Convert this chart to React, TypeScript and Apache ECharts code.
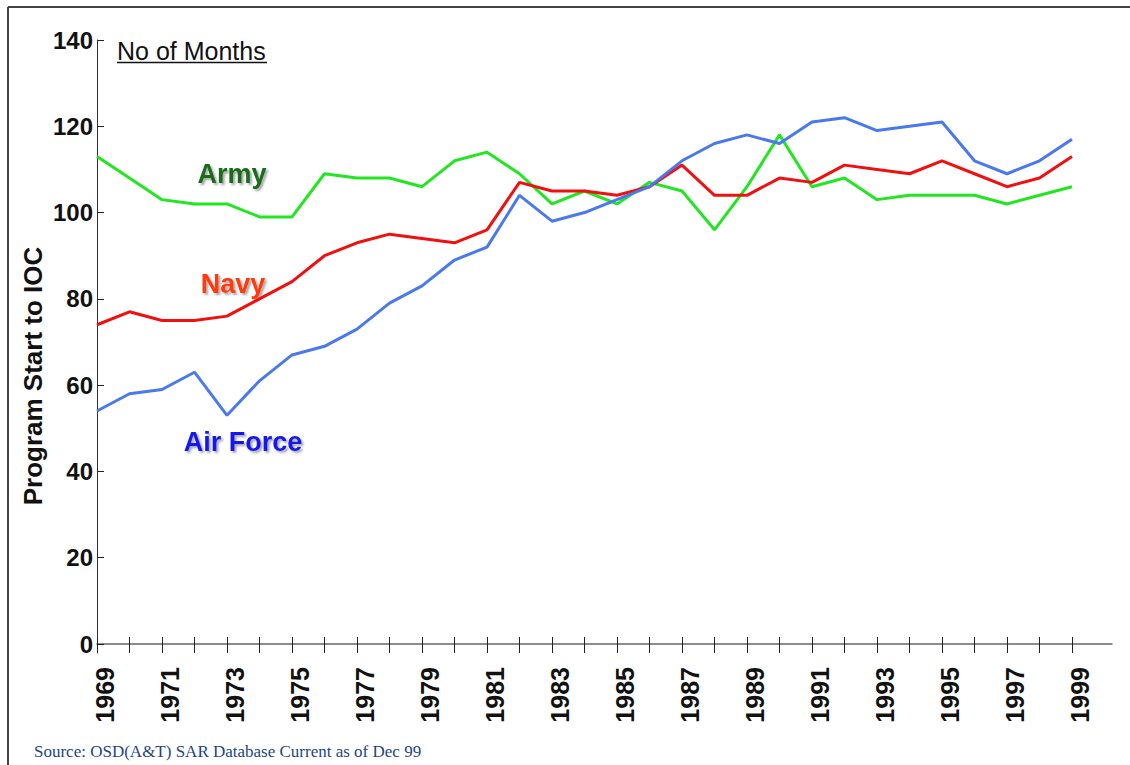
import React, { useEffect, useRef } from 'react';
import * as echarts from 'echarts';

const years = [
  '1969', '1970', '1971', '1972', '1973', '1974', '1975', '1976', '1977', '1978',
  '1979', '1980', '1981', '1982', '1983', '1984', '1985', '1986', '1987', '1988',
  '1989', '1990', '1991', '1992', '1993', '1994', '1995', '1996', '1997', '1998', '1999',
];

const army = [
  113, 108, 103, 102, 102, 99, 99, 109, 108, 108,
  106, 112, 114, 109, 102, 105, 102, 107, 105, 96,
  106, 118, 106, 108, 103, 104, 104, 104, 102, 104, 106,
];

const navy = [
  74, 77, 75, 75, 76, 80, 84, 90, 93, 95,
  94, 93, 96, 107, 105, 105, 104, 106, 111, 104,
  104, 108, 107, 111, 110, 109, 112, 109, 106, 108, 113,
];

const airForce = [
  54, 58, 59, 63, 53, 61, 67, 69, 73, 79,
  83, 89, 92, 104, 98, 100, 103, 106, 112, 116,
  118, 116, 121, 122, 119, 120, 121, 112, 109, 112, 117,
];

const seriesNames = ['Army', 'Navy', 'Air Force'];
const yMin = 0;
const yMax = 140;
const yStep = 20;

const FONT = '"Liberation Sans", Arial, Helvetica, sans-serif';

export default function App() {
  const ref = useRef<HTMLDivElement>(null);

  useEffect(() => {
    if (!ref.current) return;
    const chart = echarts.init(ref.current, null, { renderer: 'svg' });

    const labelStyle = (text: string, x: number, y: number, color: string) => ({
      type: 'text',
      x,
      y,
      style: {
        text,
        align: 'center',
        verticalAlign: 'middle',
        textAlign: 'center',
        textVerticalAlign: 'middle',
        font: `bold 27px ${FONT}`,
        fill: color,
        textShadowColor: 'rgba(0,0,0,0.35)',
        textShadowBlur: 2,
        textShadowOffsetX: 2,
        textShadowOffsetY: 2,
      },
    });

    chart.setOption({
      animation: false,
      backgroundColor: '#ffffff',
      grid: [
        { left: 97, right: 58, top: 40, bottom: 121, containLabel: false },
        { left: 97, right: 18, top: 40, bottom: 121, containLabel: false },
        { left: 97, right: 18, top: 40, bottom: 112, containLabel: false },
        { left: 105, right: 50, top: 40, bottom: 121, containLabel: false },
      ],
      xAxis: [
        {
          gridIndex: 0,
          type: 'category',
          data: years,
          boundaryGap: false,
          position: 'bottom',
          axisLine: { show: false },
          axisTick: { show: true, interval: 0, inside: false, length: 9, lineStyle: { color: '#222', width: 1 } },
          axisLabel: { show: false },
          splitLine: { show: false },
        },
        {
          gridIndex: 0,
          type: 'category',
          data: years,
          boundaryGap: false,
          position: 'bottom',
          axisLine: { show: false },
          axisTick: { show: true, interval: 0, inside: true, length: 7, lineStyle: { color: '#222', width: 1 } },
          axisLabel: { show: false },
          splitLine: { show: false },
        },
        {
          gridIndex: 1,
          type: 'value',
          min: 0,
          max: 1,
          position: 'bottom',
          axisLine: { show: true, lineStyle: { color: '#666', width: 1.5 } },
          axisTick: { show: false },
          axisLabel: { show: false },
          splitLine: { show: false },
        },
        {
          gridIndex: 2,
          type: 'value',
          min: 0,
          max: 1,
          show: false,
        },
        {
          gridIndex: 3,
          type: 'category',
          data: years,
          boundaryGap: false,
          position: 'bottom',
          axisLine: { show: false },
          axisTick: { show: false },
          axisLabel: {
            show: true,
            interval: 1,
            rotate: 90,
            margin: 23,
            color: '#111',
            fontFamily: FONT,
            fontWeight: 'bold',
            fontSize: 25,
          },
          splitLine: { show: false },
        },
      ],
      yAxis: [
        {
          gridIndex: 0,
          type: 'value',
          min: yMin,
          max: yMax,
          interval: yStep,
          axisLine: { show: false },
          axisTick: { show: true, inside: true, length: 7, lineStyle: { color: '#222', width: 1 } },
          axisLabel: {
            show: true,
            margin: 4,
            color: '#111',
            fontFamily: FONT,
            fontWeight: 'bold',
            fontSize: 24,
          },
          splitLine: { show: false },
        },
        {
          gridIndex: 1,
          type: 'value',
          min: 0,
          max: 1,
          show: false,
        },
        {
          gridIndex: 2,
          type: 'value',
          min: 0,
          max: 1,
          axisLine: { show: true, lineStyle: { color: '#333', width: 1 } },
          axisTick: { show: false },
          axisLabel: { show: false },
          splitLine: { show: false },
        },
        {
          gridIndex: 3,
          type: 'value',
          min: 0,
          max: 1,
          show: false,
        },
      ],
      series: [
        {
          name: seriesNames[0],
          type: 'line',
          xAxisIndex: 0,
          yAxisIndex: 0,
          data: army,
          showSymbol: false,
          symbol: 'none',
          lineStyle: { color: '#22e622', width: 3 },
          itemStyle: { color: '#22e622' },
          z: 3,
        },
        {
          name: seriesNames[1],
          type: 'line',
          xAxisIndex: 0,
          yAxisIndex: 0,
          data: navy,
          showSymbol: false,
          symbol: 'none',
          lineStyle: { color: '#f01010', width: 3 },
          itemStyle: { color: '#f01010' },
          z: 4,
        },
        {
          name: seriesNames[2],
          type: 'line',
          xAxisIndex: 0,
          yAxisIndex: 0,
          data: airForce,
          showSymbol: false,
          symbol: 'none',
          lineStyle: { color: '#4a78ee', width: 3 },
          itemStyle: { color: '#4a78ee' },
          z: 5,
        },
      ],
      graphic: [
        {
          type: 'line',
          shape: { x1: 8, y1: 7, x2: 8, y2: 765 },
          style: { stroke: '#444', lineWidth: 2 },
        },
        {
          type: 'line',
          shape: { x1: 8, y1: 7, x2: 1130, y2: 7 },
          style: { stroke: '#444', lineWidth: 2 },
        },
        {
          type: 'text',
          x: 33,
          y: 376,
          rotation: Math.PI / 2,
          style: {
            text: 'Program Start to IOC',
            align: 'center',
            verticalAlign: 'middle',
            textAlign: 'center',
            textVerticalAlign: 'middle',
            font: `bold 26px ${FONT}`,
            fill: '#111',
          },
        },
        {
          type: 'text',
          x: 117,
          y: 51,
          style: {
            text: 'No of Months',
            align: 'left',
            verticalAlign: 'middle',
            textAlign: 'left',
            textVerticalAlign: 'middle',
            font: `25px ${FONT}`,
            fill: '#111',
          },
        },
        {
          type: 'line',
          shape: { x1: 117, y1: 62.5, x2: 267, y2: 62.5 },
          style: { stroke: '#111', lineWidth: 1.5 },
        },
        labelStyle(seriesNames[0], 232, 174, '#1b6b1b'),
        labelStyle(seriesNames[1], 233, 284, '#ff3a10'),
        labelStyle(seriesNames[2], 243, 442, '#1818f0'),
        {
          type: 'text',
          x: 34,
          y: 751,
          style: {
            text: 'Source: OSD(A&T) SAR Database Current as of Dec 99',
            align: 'left',
            verticalAlign: 'middle',
            textAlign: 'left',
            textVerticalAlign: 'middle',
            font: `17px "Liberation Serif", "Times New Roman", serif`,
            fill: '#23467e',
          },
        },
      ],
    });

    return () => {
      chart.dispose();
    };
  }, []);

  return (
    <div
      ref={ref}
      style={{ position: 'fixed', left: 0, top: 0, width: 1130, height: 765, background: '#ffffff' }}
    />
  );
}
